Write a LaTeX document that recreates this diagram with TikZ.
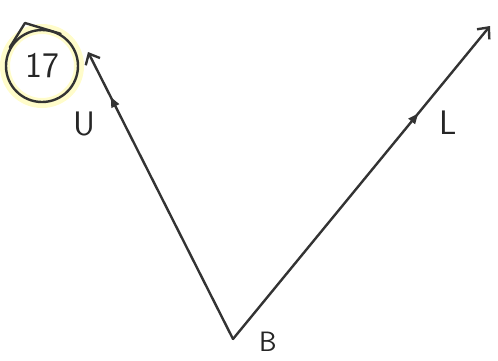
\documentclass[tikz,border=0pt]{standalone}
\usetikzlibrary{arrows.meta,decorations.markings}
\begin{document}
\begin{tikzpicture}[x=1pt,y=-1pt,
  ink/.style={draw=black!80,line width=2.4pt,line cap=round,line join=round},
  ray/.style={ink,-{Straight Barb[length=9pt,width=16pt,line width=2.4pt]},
    postaction={decorate, decoration={markings, mark=at position #1 with {\fill[black!80] (-6pt,-4.5pt)--(4pt,0)--(-6pt,4.5pt)--cycle;}}}},
  lab/.style={font=\sffamily\fontsize{34}{34}\selectfont,text=black!85}]
\useasboundingbox (0,0) rectangle (498,360);
\coordinate (B) at (233,339);
\coordinate (Utip) at (88,52);
\coordinate (Ltip) at (490,26);
\draw[ray=0.83] (B) -- (Utip);
\draw[ray=0.71] (B) -- (Ltip);
\node[lab] (lu) at (84,124) {U};
\node[lab] (ll) at (448,123) {L};
\node[lab,font=\sffamily\fontsize{28}{28}\selectfont,inner sep=0pt,anchor=base] (lb) at (268,351) {B};
% circled number with highlight
\node[circle,minimum size=74pt,draw=yellow!30!white,line width=10pt,opacity=0.7] (hl) at (42,66) {};
\node[circle,minimum size=72pt,inner sep=0pt,ink,font=\sffamily\fontsize{36}{36}\selectfont,text=black!85] (c17) at (42,66) {17};
\draw[ink] (c17.150) -- (25,23) -- (c17.60);
\end{tikzpicture}
\end{document}
